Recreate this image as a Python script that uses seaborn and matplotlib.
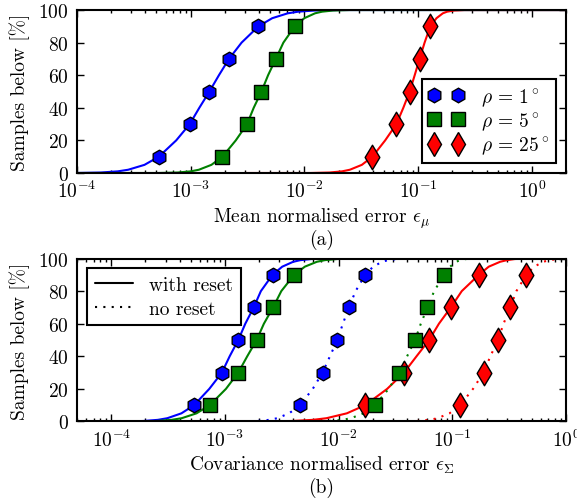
import numpy as np
import pandas as pd
import seaborn as sns
import matplotlib.pyplot as plt
from matplotlib.lines import Line2D

# percent levels of the marked points and of the drawn curves
pct = [10, 30, 50, 70, 90]
curve_pct = [0, 0, 0.3, 1, 2, 5, 10, 20, 30, 40, 50, 60, 70, 80, 90, 95, 98, 99, 99.7, 100, 100]

# (a) mean normalised error, marked points
mean_rho1 = [5.24e-4, 9.8e-4, 1.46e-3, 2.17e-3, 3.94e-3]
mean_rho5 = [1.90e-3, 3.13e-3, 4.19e-3, 5.60e-3, 8.22e-3]
mean_rho25 = [3.96e-2, 6.44e-2, 8.43e-2, 0.103, 0.128]

# (a) curves, x at each level of curve_pct
mean_rho1_curve = [5e-5, 9.6e-5, 1.62e-4, 2.28e-4, 2.82e-4, 3.92e-4, 5.24e-4, 7.45e-4, 9.8e-4, 1.19e-3, 1.46e-3,
                   1.77e-3, 2.17e-3, 2.80e-3, 3.94e-3, 5.21e-3, 7.14e-3, 8.83e-3, 1.22e-2, 2.02e-2, 2.0]
mean_rho5_curve = [5e-5, 5.14e-4, 7.69e-4, 9.98e-4, 1.18e-3, 1.52e-3, 1.90e-3, 2.49e-3, 3.13e-3, 3.58e-3, 4.19e-3,
                   4.79e-3, 5.60e-3, 6.53e-3, 8.22e-3, 9.98e-3, 1.24e-2, 1.43e-2, 1.78e-2, 2.52e-2, 2.0]
mean_rho25_curve = [3.0e-3, 1.14e-2, 1.67e-2, 2.14e-2, 2.51e-2, 3.20e-2, 3.96e-2, 5.13e-2, 6.44e-2, 7.41e-2, 8.43e-2,
                    9.33e-2, 0.103, 0.114, 0.128, 0.145, 0.165, 0.180, 0.207, 0.256, 2.0]

# (b) covariance normalised error, marked points
cov_rho1_reset = [5.35e-4, 9.4e-4, 1.31e-3, 1.79e-3, 2.62e-3]
cov_rho5_reset = [7.35e-4, 1.31e-3, 1.90e-3, 2.65e-3, 4.06e-3]
cov_rho25_reset = [1.71e-2, 3.76e-2, 6.25e-2, 9.7e-2, 0.171]
cov_rho1_noreset = [4.56e-3, 7.22e-3, 9.73e-3, 1.23e-2, 1.71e-2]
cov_rho5_noreset = [2.09e-2, 3.40e-2, 4.70e-2, 6.04e-2, 8.47e-2]
cov_rho25_noreset = [0.117, 0.188, 0.252, 0.323, 0.447]

# (b) curves
cov_rho1_reset_curve = [2e-5, 1.21e-4, 1.91e-4, 2.57e-4, 3.11e-4, 4.14e-4, 5.35e-4, 7.28e-4, 9.4e-4, 1.10e-3, 1.31e-3,
                        1.51e-3, 1.79e-3, 2.07e-3, 2.62e-3, 3.19e-3, 3.98e-3, 4.60e-3, 5.78e-3, 8.22e-3, 1.0]
cov_rho5_reset_curve = [2e-5, 1.54e-4, 2.49e-4, 3.40e-4, 4.16e-4, 5.62e-4, 7.35e-4, 1.02e-3, 1.31e-3, 1.57e-3, 1.90e-3,
                        2.20e-3, 2.65e-3, 3.13e-3, 4.06e-3, 5.04e-3, 6.43e-3, 7.55e-3, 9.71e-3, 1.43e-2, 1.0]
cov_rho25_reset_curve = [1.3e-3, 2.0e-3, 3.86e-3, 5.93e-3, 7.80e-3, 1.18e-2, 1.71e-2, 2.67e-2, 3.76e-2, 4.84e-2, 6.25e-2,
                         7.62e-2, 9.7e-2, 0.121, 0.171, 0.209, 0.263, 0.302, 0.355, 0.468, 1.0]
cov_rho1_noreset_curve = [1.0e-3, 1.30e-3, 1.91e-3, 2.45e-3, 2.88e-3, 3.67e-3, 4.56e-3, 5.92e-3, 7.22e-3, 8.38e-3, 9.73e-3,
                          1.09e-2, 1.23e-2, 1.41e-2, 1.71e-2, 2.01e-2, 2.41e-2, 2.72e-2, 3.28e-2, 4.38e-2, 1.0]
cov_rho5_noreset_curve = [3.0e-3, 5.46e-3, 8.24e-3, 1.08e-2, 1.28e-2, 1.66e-2, 2.09e-2, 2.75e-2, 3.40e-2, 4.0e-2, 4.70e-2,
                          5.28e-2, 6.04e-2, 6.92e-2, 8.47e-2, 9.55e-2, 0.108, 0.117, 0.132, 0.166, 1.0]
cov_rho25_noreset_curve = [1.5e-2, 3.31e-2, 4.89e-2, 6.28e-2, 7.40e-2, 9.44e-2, 0.117, 0.152, 0.188, 0.216, 0.252,
                           0.282, 0.323, 0.366, 0.447, 0.525, 0.630, 0.711, 0.859, 1.15, 2.0]

rho_labels = [r'$\rho\,=\,1^\circ$', r'$\rho\,=\,5^\circ$', r'$\rho\,=\,25^\circ$']
colors = ['#0000ff', '#008000', '#ff0000']
markers = ['h', 's', 'd']
msizes = [10.5, 10, 12.5]
dotted = (0, (1, 3))

sns.set_style('ticks')
plt.rcParams.update({
    'font.family': ['serif'],
    'font.serif': ['cmr10', 'DejaVu Serif'],
    'mathtext.fontset': 'cm',
    'axes.unicode_minus': False,
    'axes.formatter.use_mathtext': True,
    'font.size': 14,
    'axes.linewidth': 1.5,
    'axes.edgecolor': 'black',
    'xtick.color': 'black',
    'ytick.color': 'black',
    'text.color': 'black',
    'axes.labelcolor': 'black',
})

fig = plt.figure(figsize=(5.77, 5.02), dpi=100)
ax1 = fig.add_axes([0.1335, 0.6534, 0.8475, 0.3246])
ax2 = fig.add_axes([0.1335, 0.1584, 0.8475, 0.3246])


def draw_curve(ax, xs, color, ls='-'):
    sns.lineplot(x=xs, y=curve_pct, ax=ax, color=color, lw=1.5, linestyle=ls,
                 sort=False, estimator=None, legend=False)


def draw_points(ax, xs, i):
    sns.scatterplot(x=xs, y=pct, ax=ax, marker=markers[i], s=msizes[i] ** 2,
                    color=colors[i], edgecolor='black', linewidth=1, zorder=3, legend=False)


def style_axis(ax, xmin, xmax):
    ax.set_xscale('log')
    ax.set_xlim(xmin, xmax)
    ax.set_ylim(0, 100)
    ax.set_yticks([0, 20, 40, 60, 80, 100])
    ax.tick_params(which='both', direction='in', top=True, right=True, width=1)
    ax.tick_params(which='major', length=5, labelsize=14)
    ax.tick_params(which='minor', length=2.5)
    ax.tick_params(axis='y', pad=6)
    ax.tick_params(axis='x', pad=5)
    ax.set_ylabel('Samples below [%]', labelpad=6)
    for s in ax.spines.values():
        s.set_visible(True)


# (a)
for i, xs in enumerate([mean_rho1_curve, mean_rho5_curve, mean_rho25_curve]):
    draw_curve(ax1, xs, colors[i])
for i, xs in enumerate([mean_rho1, mean_rho5, mean_rho25]):
    draw_points(ax1, xs, i)
style_axis(ax1, 1e-4, 2)
ax1.set_xlabel(r'Mean normalised error $\epsilon_\mu$', labelpad=3)
handles = [Line2D([], [], ls='', marker=markers[i], ms=msizes[i], mfc=colors[i], mec='black', mew=1)
           for i in range(3)]
leg = ax1.legend(handles, rho_labels, loc='lower right', numpoints=2, frameon=True, fancybox=False,
                 edgecolor='black', framealpha=1, fontsize=14, borderaxespad=0.5,
                 handlelength=1.8, labelspacing=0.12, borderpad=0.35, handletextpad=0.9)
leg.get_frame().set_linewidth(1.5)

# (b)
for i, xs in enumerate([cov_rho1_reset_curve, cov_rho5_reset_curve, cov_rho25_reset_curve]):
    draw_curve(ax2, xs, colors[i])
for i, xs in enumerate([cov_rho1_noreset_curve, cov_rho5_noreset_curve, cov_rho25_noreset_curve]):
    draw_curve(ax2, xs, colors[i], ls=dotted)
for i, xs in enumerate([cov_rho1_reset, cov_rho5_reset, cov_rho25_reset]):
    draw_points(ax2, xs, i)
for i, xs in enumerate([cov_rho1_noreset, cov_rho5_noreset, cov_rho25_noreset]):
    draw_points(ax2, xs, i)
style_axis(ax2, 5e-5, 1)
ax2.set_xlabel(r'Covariance normalised error $\epsilon_\Sigma$', labelpad=3)
handles = [Line2D([], [], color='black', lw=1.5, ls='-'), Line2D([], [], color='black', lw=1.5, ls=dotted)]
leg = ax2.legend(handles, ['with reset', 'no reset'], loc='upper left', frameon=True, fancybox=False,
                 edgecolor='black', framealpha=1, fontsize=14, borderaxespad=0.5, handlelength=2,
                 labelspacing=0.3, borderpad=0.4)
leg.get_frame().set_linewidth(1.5)

fig.text(0.557, 1 - 240 / 502, '(a)', ha='center', va='center', fontsize=14)
fig.text(0.557, 1 - 488 / 502, '(b)', ha='center', va='center', fontsize=14)

fig.savefig('out.png', dpi=100)
